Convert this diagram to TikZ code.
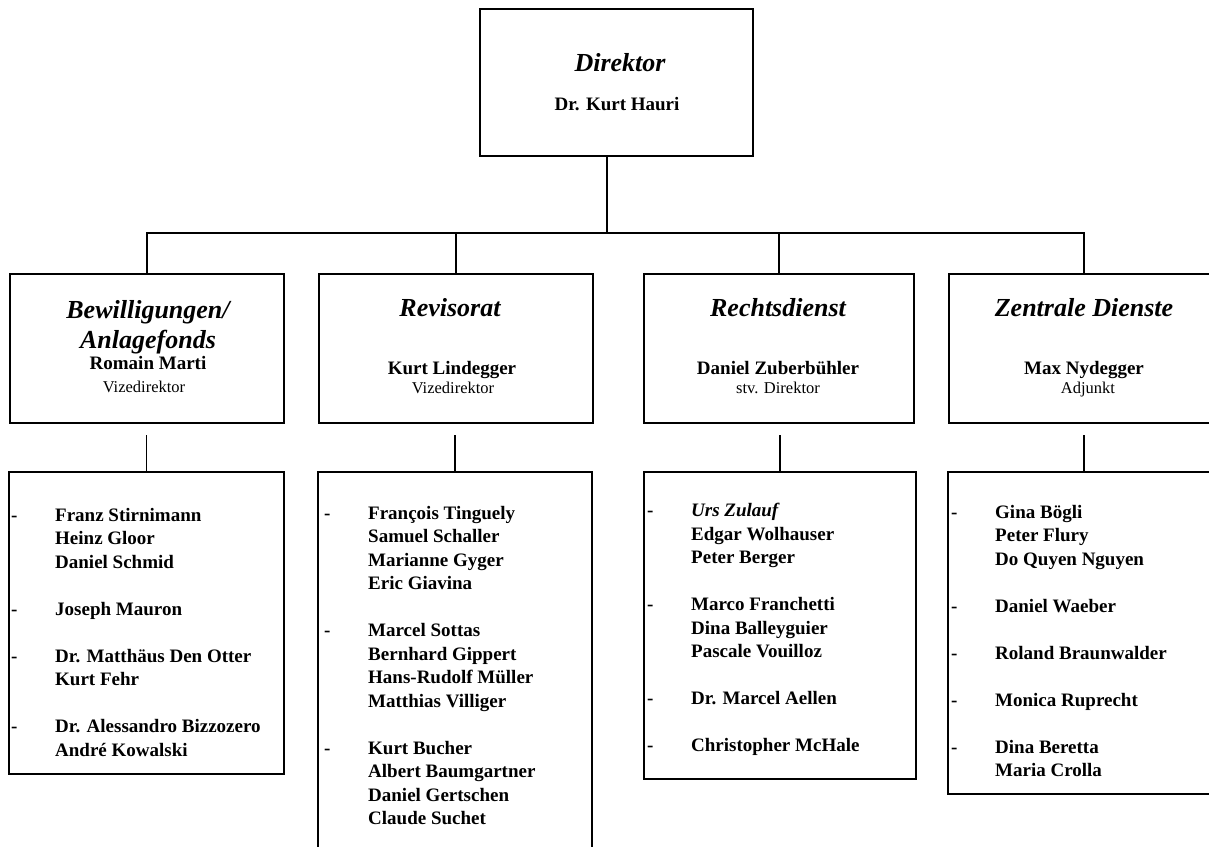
\documentclass[tikz,border=0pt]{standalone}
\usepackage{fontspec}
\setmainfont{Liberation Serif}
\usetikzlibrary{arrows}

\newcommand{\grpdash}{\makebox[44pt][l]{-}}
\newcommand{\grpskip}{\hspace*{44pt}}

\begin{document}
\begin{tikzpicture}[x=1pt,y=-1pt,
  box/.style={rectangle,draw,line width=1.8pt,anchor=north west,inner sep=0pt},
  link/.style={-,line width=1.3pt},
  head/.style={font=\fontsize{26}{30}\selectfont\bfseries\itshape,align=center,inner sep=0pt},
  chief/.style={font=\fontsize{19}{22}\selectfont\bfseries,inner sep=0pt,anchor=base},
  rank/.style={font=\fontsize{16.5}{19}\selectfont,inner sep=0pt,anchor=base},
  staff/.style={font=\fontsize{19}{23.5}\selectfont\bfseries,align=left,anchor=north west,inner sep=0pt}]

  \clip (0,0) rectangle (1209,846);

  % boxes
  \node[box,minimum width=273pt,minimum height=147pt] (dir) at (479,8) {};
  \node[box,minimum width=274pt,minimum height=149pt] (dept1) at (9,273) {};
  \node[box,minimum width=274pt,minimum height=149pt] (dept2) at (318,273) {};
  \node[box,minimum width=270pt,minimum height=149pt] (dept3) at (643,273) {};
  \node[box,minimum width=270pt,minimum height=149pt] (dept4) at (948,273) {};
  \node[box,minimum width=275pt,minimum height=302pt] (list1) at (8,471) {};
  \node[box,minimum width=274pt,minimum height=400pt] (list2) at (317,471) {};
  \node[box,minimum width=272pt,minimum height=307pt] (list3) at (643,471) {};
  \node[box,minimum width=272pt,minimum height=322pt] (list4) at (947,471) {};

  % Direktor
  \node[head,anchor=base] (dirhead) at (620,71) {Direktor};
  \node[chief] (dirname) at (617,110) {Dr. Kurt Hauri};

  % departments
  \node[head] (head1) at (148,327) {Bewilligungen/\\Anlagefonds};
  \node[chief] (name1) at (148,369) {Romain Marti};
  \node[rank] (rank1) at (144,392) {Vizedirektor};

  \node[head,anchor=base] (head2) at (450,316) {Revisorat};
  \node[chief] (name2) at (452,374) {Kurt Lindegger};
  \node[rank] (rank2) at (453,393) {Vizedirektor};

  \node[head,anchor=base] (head3) at (778,316) {Rechtsdienst};
  \node[chief] (name3) at (778,374) {Daniel Zuberbühler};
  \node[rank] (rank3) at (778,393) {stv. Direktor};

  \node[head,anchor=base] (head4) at (1084,316) {Zentrale Dienste};
  \node[chief] (name4) at (1084,374) {Max Nydegger};
  \node[rank] (rank4) at (1088,393) {Adjunkt};

  % staff lists
  \node[staff] (staff1) at (11,508) {\grpdash Franz Stirnimann\\ \grpskip Heinz Gloor\\ \grpskip Daniel Schmid\\[23.5pt]
    \grpdash Joseph Mauron\\[23.5pt]
    \grpdash Dr. Matthäus Den Otter\\ \grpskip Kurt Fehr\\[23.5pt]
    \grpdash Dr. Alessandro Bizzozero\\ \grpskip André Kowalski};

  \node[staff] (staff2) at (324,506) {\grpdash François Tinguely\\ \grpskip Samuel Schaller\\ \grpskip Marianne Gyger\\ \grpskip Eric Giavina\\[23.5pt]
    \grpdash Marcel Sottas\\ \grpskip Bernhard Gippert\\ \grpskip Hans-Rudolf Müller\\ \grpskip Matthias Villiger\\[23.5pt]
    \grpdash Kurt Bucher\\ \grpskip Albert Baumgartner\\ \grpskip Daniel Gertschen\\ \grpskip Claude Suchet};

  \node[staff] (staff3) at (647,503) {\grpdash \textit{Urs Zulauf}\\ \grpskip Edgar Wolhauser\\ \grpskip Peter Berger\\[23.5pt]
    \grpdash Marco Franchetti\\ \grpskip Dina Balleyguier\\ \grpskip Pascale Vouilloz\\[23.5pt]
    \grpdash Dr. Marcel Aellen\\[23.5pt]
    \grpdash Christopher McHale};

  \node[staff] (staff4) at (951,505) {\grpdash Gina Bögli\\ \grpskip Peter Flury\\ \grpskip Do Quyen Nguyen\\[23.5pt]
    \grpdash Daniel Waeber\\[23.5pt]
    \grpdash Roland Braunwalder\\[23.5pt]
    \grpdash Monica Ruprecht\\[23.5pt]
    \grpdash Dina Beretta\\ \grpskip Maria Crolla};

  % connectors
  \coordinate (bus) at (607,233);
  \draw[link] (bus |- dir.south) -- (bus);
  \draw[link] (dept1.north) |- (bus) -| (dept4.north);
  \draw[link] (dept2.north) -- (dept2.north |- bus);
  \draw[link] (dept3.north) -- (dept3.north |- bus);

  \draw[link,shorten >=11pt] (list1.north) -- (list1.north |- dept1.south);
  \draw[link,shorten >=11pt] (list2.north) -- (list2.north |- dept2.south);
  \draw[link,shorten >=11pt] (list3.north) -- (list3.north |- dept3.south);
  \draw[link,shorten >=11pt] (list4.north) -- (list4.north |- dept4.south);

\end{tikzpicture}
\end{document}
